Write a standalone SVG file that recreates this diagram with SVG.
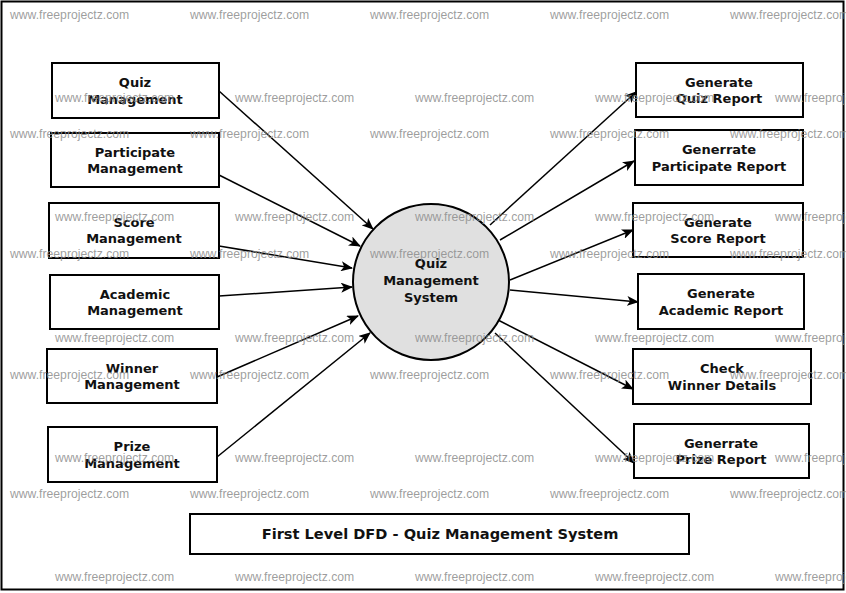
<svg xmlns="http://www.w3.org/2000/svg" width="846" height="593" viewBox="0 0 846 593">
<style>
.box{fill:none;stroke:#000;stroke-width:2}
.t{font-family:"DejaVu Sans",Verdana,sans-serif;font-weight:bold;font-size:13px;fill:#111;text-anchor:middle}
.flow{stroke:#000;stroke-width:1.5;fill:none;marker-end:url(#ah)}
.wm{font-family:"Liberation Sans",Arial,sans-serif;font-size:12.2px;fill:#8c8c8c;fill-opacity:0.85}
</style>
<defs>
<marker id="ah" viewBox="0 0 12 10" refX="11" refY="5" markerWidth="12" markerHeight="10" markerUnits="userSpaceOnUse" orient="auto">
<path d="M0,0 L12,5 L0,10 L3,5 Z" fill="#000"/>
</marker>
</defs>
<rect x="0" y="0" width="846" height="593" fill="#fff"/>
<rect x="1.5" y="1.5" width="842" height="588" fill="none" stroke="#000" stroke-width="2"/>

<g id="connectors">
<line class="flow" x1="219" y1="91" x2="373" y2="229"/>
<line class="flow" x1="219" y1="175" x2="360" y2="246"/>
<line class="flow" x1="219" y1="246" x2="352" y2="268"/>
<line class="flow" x1="219" y1="296" x2="352" y2="287"/>
<line class="flow" x1="217" y1="377" x2="358" y2="316"/>
<line class="flow" x1="217" y1="457" x2="370" y2="333"/>
<line class="flow" x1="490" y1="225" x2="636" y2="92"/>
<line class="flow" x1="500" y1="240" x2="634" y2="161"/>
<line class="flow" x1="510" y1="280" x2="633" y2="230"/>
<line class="flow" x1="510" y1="290" x2="638" y2="302"/>
<line class="flow" x1="498" y1="320" x2="633" y2="389"/>
<line class="flow" x1="495" y1="333" x2="634" y2="463"/>
</g>

<g id="quiz-system">
<circle cx="431" cy="282" r="78" fill="#e0e0e0" stroke="#000" stroke-width="2"/>
<text class="t" x="431" y="268">Quiz</text>
<text class="t" x="431" y="285">Management</text>
<text class="t" x="431" y="302">System</text>
</g>

<g id="quiz-management"><rect class="box" x="52" y="63" width="167" height="55"/>
<text class="t" x="135" y="87">Quiz</text><text class="t" x="135" y="104">Management</text></g>
<g id="participate-management"><rect class="box" x="51" y="133" width="168" height="54"/>
<text class="t" x="135" y="157">Participate</text><text class="t" x="135" y="173">Management</text></g>
<g id="score-management"><rect class="box" x="49" y="203" width="170" height="55"/>
<text class="t" x="134" y="227">Score</text><text class="t" x="134" y="243">Management</text></g>
<g id="academic-management"><rect class="box" x="50" y="275" width="169" height="54"/>
<text class="t" x="135" y="299">Academic</text><text class="t" x="135" y="315">Management</text></g>
<g id="winner-management"><rect class="box" x="47" y="349" width="170" height="54"/>
<text class="t" x="132" y="373">Winner</text><text class="t" x="132" y="389">Management</text></g>
<g id="prize-management"><rect class="box" x="48" y="427" width="169" height="55"/>
<text class="t" x="132" y="451">Prize</text><text class="t" x="132" y="468">Management</text></g>

<g id="quiz-report"><rect class="box" x="636" y="63" width="167" height="54"/>
<text class="t" x="719" y="87">Generate</text><text class="t" x="719" y="103">Quiz Report</text></g>
<g id="participate-report"><rect class="box" x="635" y="130" width="168" height="55"/>
<text class="t" x="719" y="154">Generrate</text><text class="t" x="719" y="171">Participate Report</text></g>
<g id="score-report"><rect class="box" x="633" y="203" width="170" height="54"/>
<text class="t" x="718" y="227">Generate</text><text class="t" x="718" y="243">Score Report</text></g>
<g id="academic-report"><rect class="box" x="638" y="274" width="166" height="55"/>
<text class="t" x="721" y="298">Generate</text><text class="t" x="721" y="315">Academic Report</text></g>
<g id="winner-details"><rect class="box" x="633" y="349" width="178" height="55"/>
<text class="t" x="722" y="373">Check</text><text class="t" x="722" y="390">Winner Details</text></g>
<g id="prize-report"><rect class="box" x="634" y="424" width="175" height="54"/>
<text class="t" x="721" y="448">Generrate</text><text class="t" x="721" y="464">Prize Report</text></g>

<g id="title"><rect class="box" x="190" y="514" width="499" height="40"/>
<text class="t" x="440" y="539" style="font-size:14.6px">First Level DFD - Quiz Management System</text></g>

<g id="watermarks">
<text class="wm" x="10" y="19">www.freeprojectz.com</text><text class="wm" x="190" y="19">www.freeprojectz.com</text><text class="wm" x="370" y="19">www.freeprojectz.com</text><text class="wm" x="550" y="19">www.freeprojectz.com</text><text class="wm" x="730" y="19">www.freeprojectz.com</text>
<text class="wm" x="55" y="102">www.freeprojectz.com</text><text class="wm" x="235" y="102">www.freeprojectz.com</text><text class="wm" x="415" y="102">www.freeprojectz.com</text><text class="wm" x="595" y="102">www.freeprojectz.com</text><text class="wm" x="775" y="102">www.freeprojectz.com</text>
<text class="wm" x="10" y="138">www.freeprojectz.com</text><text class="wm" x="190" y="138">www.freeprojectz.com</text><text class="wm" x="370" y="138">www.freeprojectz.com</text><text class="wm" x="550" y="138">www.freeprojectz.com</text><text class="wm" x="730" y="138">www.freeprojectz.com</text>
<text class="wm" x="55" y="221">www.freeprojectz.com</text><text class="wm" x="235" y="221">www.freeprojectz.com</text><text class="wm" x="415" y="221">www.freeprojectz.com</text><text class="wm" x="595" y="221">www.freeprojectz.com</text><text class="wm" x="775" y="221">www.freeprojectz.com</text>
<text class="wm" x="10" y="258">www.freeprojectz.com</text><text class="wm" x="190" y="258">www.freeprojectz.com</text><text class="wm" x="370" y="258">www.freeprojectz.com</text><text class="wm" x="550" y="258">www.freeprojectz.com</text><text class="wm" x="730" y="258">www.freeprojectz.com</text>
<text class="wm" x="55" y="342">www.freeprojectz.com</text><text class="wm" x="235" y="342">www.freeprojectz.com</text><text class="wm" x="415" y="342">www.freeprojectz.com</text><text class="wm" x="595" y="342">www.freeprojectz.com</text><text class="wm" x="775" y="342">www.freeprojectz.com</text>
<text class="wm" x="10" y="379">www.freeprojectz.com</text><text class="wm" x="190" y="379">www.freeprojectz.com</text><text class="wm" x="370" y="379">www.freeprojectz.com</text><text class="wm" x="550" y="379">www.freeprojectz.com</text><text class="wm" x="730" y="379">www.freeprojectz.com</text>
<text class="wm" x="55" y="462">www.freeprojectz.com</text><text class="wm" x="235" y="462">www.freeprojectz.com</text><text class="wm" x="415" y="462">www.freeprojectz.com</text><text class="wm" x="595" y="462">www.freeprojectz.com</text><text class="wm" x="775" y="462">www.freeprojectz.com</text>
<text class="wm" x="10" y="498">www.freeprojectz.com</text><text class="wm" x="190" y="498">www.freeprojectz.com</text><text class="wm" x="370" y="498">www.freeprojectz.com</text><text class="wm" x="550" y="498">www.freeprojectz.com</text><text class="wm" x="730" y="498">www.freeprojectz.com</text>
<text class="wm" x="55" y="581">www.freeprojectz.com</text><text class="wm" x="235" y="581">www.freeprojectz.com</text><text class="wm" x="415" y="581">www.freeprojectz.com</text><text class="wm" x="595" y="581">www.freeprojectz.com</text><text class="wm" x="775" y="581">www.freeprojectz.com</text>
</g>
</svg>
